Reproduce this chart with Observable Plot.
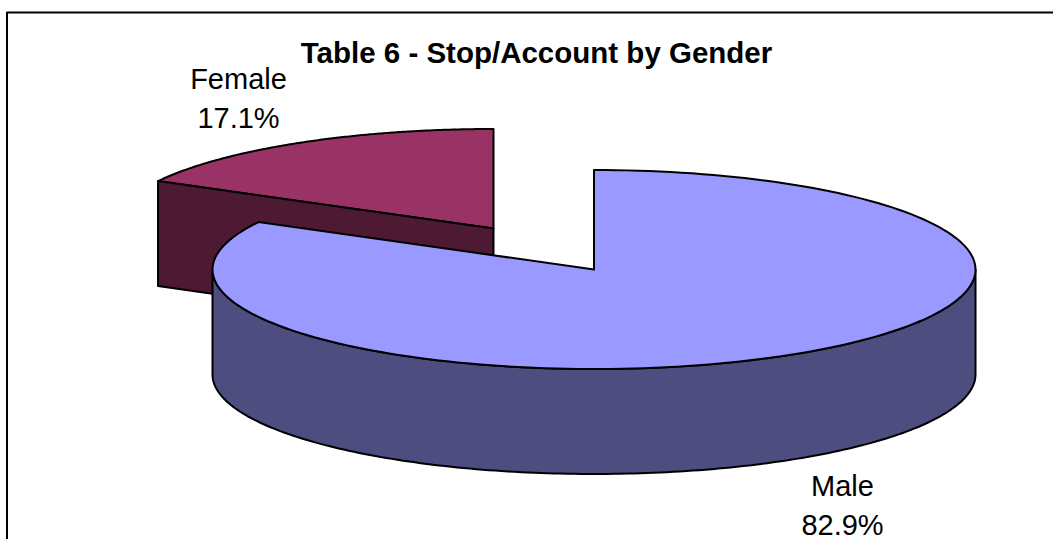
<!DOCTYPE html>
<html>
<head>
<meta charset="utf-8">
<script src="https://cdn.jsdelivr.net/npm/d3@7"></script>
<script src="https://cdn.jsdelivr.net/npm/@observablehq/plot@0.6"></script>
<style>
html,body{margin:0;padding:0;background:#fff}
svg{display:block}
</style>
</head>
<body>
<div id="chart"></div>
<script>
const titleText = "Table 6 - Stop/Account by Gender";
const genders = ["Male", "Female"];
const shares = [82.9, 17.1];
const topColors = ["#9999FF", "#993366"];
const sideColors = ["#4D4D80", "#4D1933"];
const pieCentres = [[593.5, 269], [493, 228]];
const labelAnchors = [[842, 534], [238, 127]];

const W = 1053, H = 539;
const rx = 381.5, ry = 99.5, depth = 105;

// Angles clockwise from 12 o'clock, in degrees, from the shares
const sweep = shares.map(s => s / d3.sum(shares) * 360);
const project = ([cx, cy], deg, drop = 0) => {
  const a = deg * Math.PI / 180;
  return {x: cx + rx * Math.sin(a), y: cy - ry * Math.cos(a) + drop};
};
const arc = (c, from, to, drop = 0) =>
  d3.range(0, 181).map(i => project(c, from + (to - from) * i / 180, drop));

const [maleC, femaleC] = pieCentres;
const maleEnd = sweep[0];

const polys = [
  // Female top face
  {part: "femaleTop", fill: topColors[1], pts: [{x: femaleC[0], y: femaleC[1]}, ...arc(femaleC, maleEnd, 360)]},
  // Female cut face, facing the viewer
  {part: "femaleCut", fill: sideColors[1], pts: [
    {x: femaleC[0], y: femaleC[1]},
    project(femaleC, maleEnd),
    project(femaleC, maleEnd, depth),
    {x: femaleC[0], y: femaleC[1] + depth}
  ]},
  // Male outer wall, from the right extreme round the front to the left extreme
  {part: "maleWall", fill: sideColors[0], pts: [...arc(maleC, 90, 270), ...arc(maleC, 270, 90, depth)]},
  // Male top face
  {part: "maleTop", fill: topColors[0], pts: [{x: maleC[0], y: maleC[1]}, ...arc(maleC, 0, maleEnd)]}
];
const rows = polys.flatMap(p => p.pts.map(q => ({...q, part: p.part, fill: p.fill})));

const labels = genders.map((g, i) => ({
  text: `${g}\n${shares[i].toFixed(1)}%`, x: labelAnchors[i][0], y: labelAnchors[i][1]
}));

const plot = Plot.plot({
  width: W, height: H,
  marginTop: 0, marginRight: 0, marginBottom: 0, marginLeft: 0,
  x: {type: "linear", domain: [0, W], range: [0, W], axis: null},
  y: {type: "linear", domain: [0, H], range: [0, H], axis: null},
  style: {background: "#fff", fontFamily: "'Liberation Sans', Arial, sans-serif"},
  marks: [
    Plot.ruleY([12], {x1: 6.5, x2: W, stroke: "#000", strokeWidth: 2}),
    Plot.ruleX([6.5], {y1: 12, y2: H, stroke: "#000", strokeWidth: 2}),
    Plot.line(rows, {
      x: "x", y: "y", z: "part", fill: "fill", stroke: "#000",
      strokeWidth: 2, curve: "linear-closed", strokeLinejoin: "round"
    }),
    Plot.text(labels, {
      x: "x", y: "y", text: "text", fontSize: 29, lineHeight: 1.345,
      textAnchor: "middle", lineAnchor: "bottom", fill: "#000"
    }),
    Plot.text([titleText], {
      x: () => 536, y: () => 62, text: d => d, fontSize: 29.5, fontWeight: "bold",
      textAnchor: "middle", lineAnchor: "bottom", fill: "#000"
    })
  ]
});
document.getElementById("chart").appendChild(plot);
</script>
</body>
</html>
